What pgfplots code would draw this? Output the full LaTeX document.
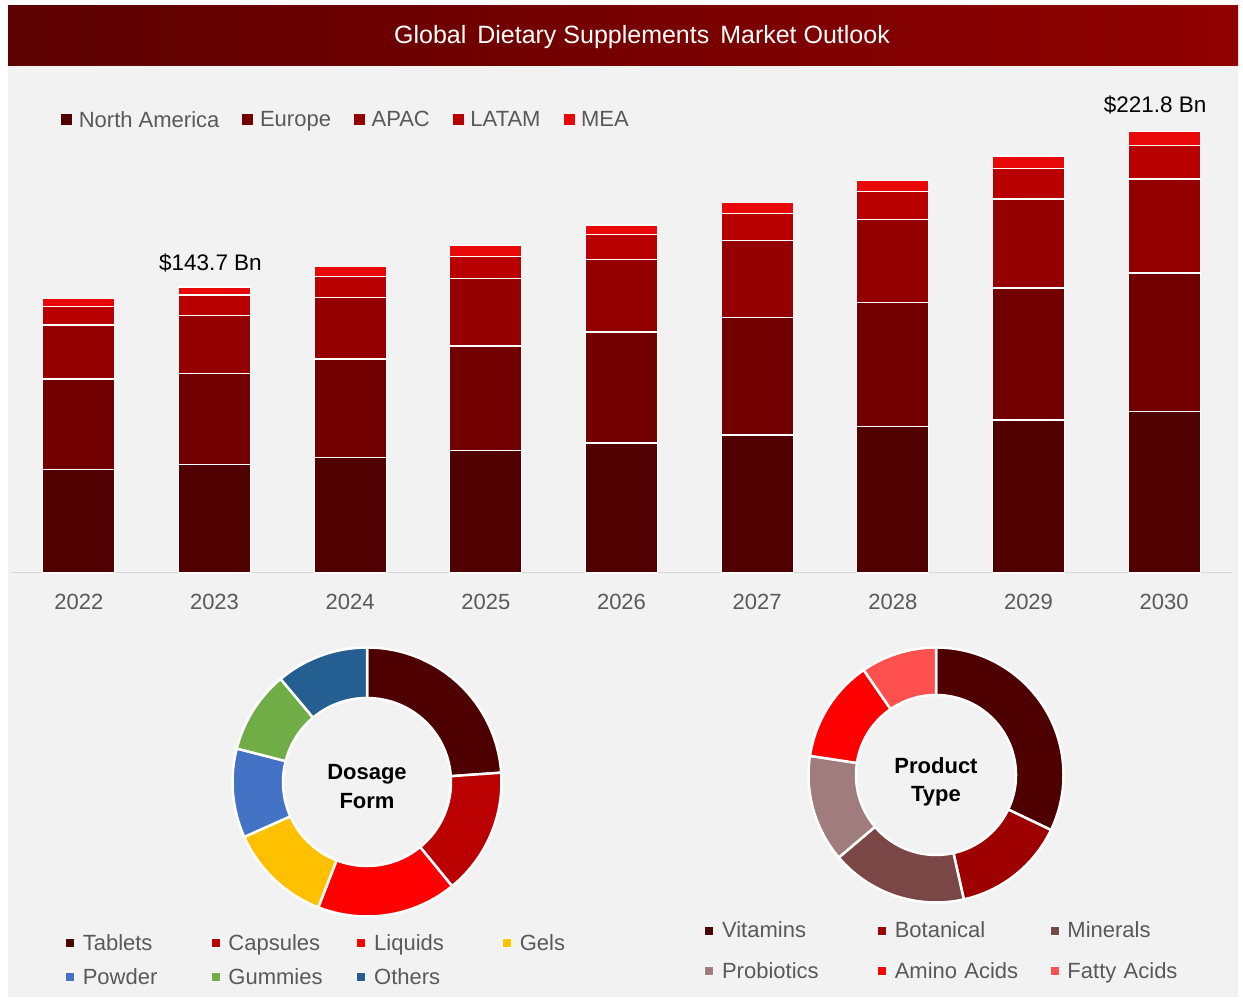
\documentclass[border=0pt]{standalone}
\usepackage{pgfplots}
\pgfplotsset{compat=1.18}
\usepackage{pgfplotstable}
\usepackage{fontspec}
\setmainfont{Liberation Sans}

\definecolor{panel}{HTML}{F2F2F2}
\definecolor{txt}{HTML}{595959}
\definecolor{axl}{HTML}{D9D9D9}
\definecolor{cNA}{HTML}{500000}
\definecolor{cEU}{HTML}{720000}
\definecolor{cAP}{HTML}{940000}
\definecolor{cLA}{HTML}{B90000}
\definecolor{cME}{HTML}{E80808}
\definecolor{dTab}{HTML}{4E0000}
\definecolor{dCap}{HTML}{BA0000}
\definecolor{dLiq}{HTML}{FF0000}
\definecolor{dGel}{HTML}{FFC000}
\definecolor{dPow}{HTML}{4472C4}
\definecolor{dGum}{HTML}{70AD47}
\definecolor{dOth}{HTML}{255E91}
\definecolor{pVit}{HTML}{4E0000}
\definecolor{pBot}{HTML}{9E0000}
\definecolor{pMin}{HTML}{7A4646}
\definecolor{pPro}{HTML}{A07C7C}
\definecolor{pAmi}{HTML}{FF0000}
\definecolor{pFat}{HTML}{FF5050}
\definecolor{bnL}{HTML}{5C0000}
\definecolor{bnR}{HTML}{900000}

\pgfplotstableread{
x year NA EU AP LA ME
0 2022 52.1 45.4 27.1 9.5 3.9
1 2023 54.5 45.9 29.1 10.2 4.0
2 2024 58.1 49.4 30.8 10.8 4.8
3 2025 61.7 52.4 33.8 11.3 5.3
4 2026 65.3 55.8 36.3 12.6 4.9
5 2027 69.3 58.9 38.7 13.9 5.4
6 2028 73.5 62.5 41.7 14.2 5.5
7 2029 76.9 66.3 44.7 15.2 6.4
8 2030 81.3 69.4 47.3 17.0 6.8
}\market

\pgfplotstableread{
seg share col
Tablets 23.9 dTab
Capsules 15.2 dCap
Liquids 16.8 dLiq
Gels 12.4 dGel
Powder 10.7 dPow
Gummies 9.9 dGum
Others 11.1 dOth
}\dosage

\pgfplotstableread{
seg share col
Vitamins 32.1 pVit
Botanical 14.4 pBot
Minerals 17.3 pMin
Probiotics 13.6 pPro
AminoAcids 13.0 pAmi
FattyAcids 9.6 pFat
}\product

\newcommand\donut[3]{%
  \pgfplotstablegetrowsof{#1}%
  \pgfmathtruncatemacro\nrows{\pgfplotsretval-1}%
  \gdef\angS{90}%
  \foreach \i in {0,...,\nrows}{%
    \pgfplotstablegetelem{\i}{share}\of{#1}\let\sh\pgfplotsretval
    \pgfplotstablegetelem{\i}{col}\of{#1}\let\cl\pgfplotsretval
    \pgfmathsetmacro\angE{\angS-3.6*\sh}%
    \filldraw[fill=\cl, draw=white, line width=2.5pt, line join=round]
      (axis cs:{#2*cos(\angS)},{#2*sin(\angS)})
      arc[start angle=\angS, end angle=\angE, radius=#2pt]
      -- (axis cs:{#3*cos(\angE)},{#3*sin(\angE)})
      arc[start angle=\angE, end angle=\angS, radius=#3pt] -- cycle;
    \xdef\angS{\angE}%
  }}

\newcommand\fs[1]{\fontsize{#1}{#1}\selectfont}

\begin{document}
\begin{tikzpicture}[x=1pt,y=1pt]
% background
\fill[white] (0,0) rectangle (1243,1003);
\fill[panel] (8,6) rectangle (1238,997);
\shade[left color=bnL, right color=bnR] (8,937) rectangle (1238,997);
\node[text=white, font=\fs{25}] at (642,966) {Global\hspace{4pt} Dietary Supplements\hspace{4pt} Market Outlook};

% stacked bars
\begin{axis}[
  at={(11pt,430pt)}, anchor=south west,
  scale only axis, width=1221pt, height=497.5pt,
  xmin=-0.5, xmax=8.5, ymin=0, ymax=250,
  ybar stacked, bar width=72pt,
  axis y line=none, axis x line*=bottom,
  x axis line style={draw=axl, line width=1pt},
  xtick={0,1,2,3,4,5,6,7,8},
  xticklabels={2022,2023,2024,2025,2026,2027,2028,2029,2030},
  major tick length=0pt,
  xticklabel style={font=\fs{22}, text=txt, anchor=base, yshift=-37pt},
  clip=false,
  every axis plot/.append style={draw=white, line width=1.2pt},
  legend columns=-1, legend cell align=left,
  legend image code/.code={\fill[#1, draw=none] (0pt,-5.5pt) rectangle (11pt,5.5pt); \path (17pt,0pt);},
  legend style={at={(0.041,0.9106)}, anchor=west, draw=none, fill=none, inner sep=0pt,
    nodes={inner sep=0pt, font=\fs{22}, text=txt},
    /tikz/every even column/.append style={column sep=23pt}},
]
\addplot[fill=cNA] table[x=x,y=NA]{\market};
\addplot[fill=cEU] table[x=x,y=EU]{\market};
\addplot[fill=cAP] table[x=x,y=AP]{\market};
\addplot[fill=cLA] table[x=x,y=LA]{\market};
\addplot[fill=cME] table[x=x,y=ME]{\market};
\legend{North America, Europe, APAC, LATAM, MEA}
\node[anchor=south, font=\fs{22.5}, text=black, xshift=-4pt, yshift=11pt] at (axis cs:1,143.7) {\$143.7 Bn};
\node[anchor=south, font=\fs{22.5}, text=black, xshift=-9pt, yshift=14pt] at (axis cs:8,221.8) {\$221.8 Bn};
\end{axis}

% Dosage form donut
\begin{axis}[
  hide axis, x=1pt, y=1pt, xmin=-140, xmax=140, ymin=-140, ymax=140,
  at={(367pt,221pt)}, anchor=center, clip=false,
  legend columns=4, legend cell align=left,
  legend image code/.code={\filldraw[#1, draw=white, line width=1pt] (0pt,-4.5pt) rectangle (9pt,4.5pt); \path (17pt,0pt);},
  legend style={at={(-0.579,-0.043)}, anchor=north west, draw=none, fill=none, inner sep=0pt,
    row sep=17pt,
    nodes={inner sep=0pt, font=\fs{22}, text=txt, text width=128pt, align=left}},
]
\pgfplotsextra{\donut{\dosage}{134.5}{84}}
\node[font=\bfseries\fs{22}, align=center, text=black, inner sep=0pt] at (axis cs:0,-4.5) {Dosage\\[7pt]Form};
\addlegendimage{fill=dTab}\addlegendentry{Tablets}
\addlegendimage{fill=dCap}\addlegendentry{Capsules}
\addlegendimage{fill=dLiq}\addlegendentry{Liquids}
\addlegendimage{fill=dGel}\addlegendentry{Gels}
\addlegendimage{fill=dPow}\addlegendentry{Powder}
\addlegendimage{fill=dGum}\addlegendentry{Gummies}
\addlegendimage{fill=dOth}\addlegendentry{Others}
\end{axis}

% Product type donut
\begin{axis}[
  hide axis, x=1pt, y=1pt, xmin=-140, xmax=140, ymin=-140, ymax=140,
  at={(936pt,228pt)}, anchor=center, clip=false,
  legend columns=3, legend cell align=left,
  legend image code/.code={\filldraw[#1, draw=white, line width=1pt] (0pt,-4.5pt) rectangle (9pt,4.5pt); \path (17pt,0pt);},
  legend style={at={(-0.328,-0.024)}, anchor=north west, draw=none, fill=none, inner sep=0pt,
    row sep=23pt,
    nodes={inner sep=0pt, font=\fs{22}, text=txt, text width=155pt, align=left}},
]
\pgfplotsextra{\donut{\product}{127.5}{80}}
\node[font=\bfseries\fs{22}, align=center, text=black, inner sep=0pt] at (axis cs:0,-6.5) {Product\\[6pt]Type};
\addlegendimage{fill=pVit}\addlegendentry{Vitamins}
\addlegendimage{fill=pBot}\addlegendentry{Botanical}
\addlegendimage{fill=pMin}\addlegendentry{Minerals}
\addlegendimage{fill=pPro}\addlegendentry{Probiotics}
\addlegendimage{fill=pAmi}\addlegendentry{Amino Acids}
\addlegendimage{fill=pFat}\addlegendentry{Fatty Acids}
\end{axis}
\end{tikzpicture}
\end{document}
